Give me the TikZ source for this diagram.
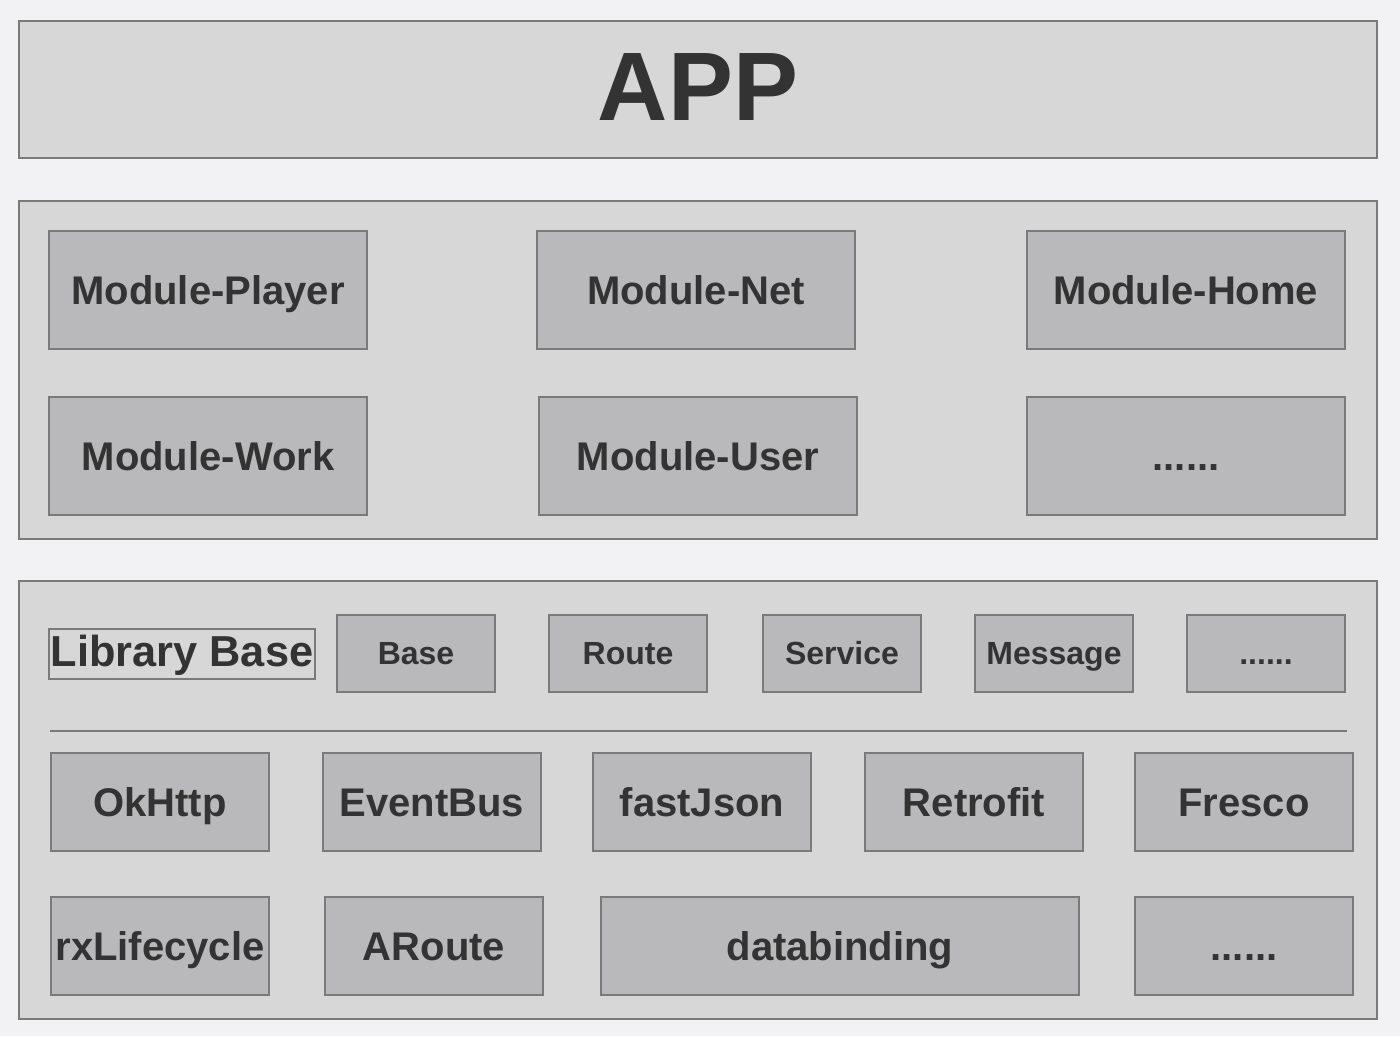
\documentclass[tikz,border=0pt]{standalone}
\usepackage{fontspec}
\setmainfont{Liberation Sans}
\definecolor{pagebg}{RGB}{242,242,244}
\definecolor{panelfill}{RGB}{215,215,215}
\definecolor{boxfill}{RGB}{185,185,187}
\definecolor{edgegray}{RGB}{122,122,122}
\definecolor{inkgray}{RGB}{51,51,51}
\tikzset{every picture/.style={line width=0.75pt}}
\tikzset{
  panel/.style={draw=edgegray, fill=panelfill, line width=1.5pt},
  capbox/.style={text=inkgray, inner sep=0pt, text depth=0pt},
  modbox/.style={capbox, draw=edgegray, fill=boxfill, line width=1.5pt,
    minimum width=238.5pt, minimum height=88.5pt, text height=21.5pt,
    font=\fontsize{30}{36}\selectfont\bfseries},
  tagbox/.style={capbox, draw=edgegray, fill=boxfill, line width=1.5pt,
    minimum width=118.5pt, minimum height=57.75pt, text height=17.2pt,
    font=\fontsize{24}{29}\selectfont\bfseries},
  libbox/.style={capbox, draw=edgegray, fill=boxfill, line width=1.5pt,
    minimum width=163.5pt, minimum height=73.5pt, text height=21.5pt,
    font=\fontsize{30}{36}\selectfont\bfseries}
}

\begin{document}
\begin{tikzpicture}[x=0.75pt,y=0.75pt,yscale=-1,xscale=1]
    \useasboundingbox [fill=pagebg] (0,0) rectangle (1400,1036);

    %Shape: Rectangle [id:app]
    \draw [panel] (19,21) rectangle (1377,158);
    %Shape: Rectangle [id:modules]
    \draw [panel] (19,201) rectangle (1377,539);
    %Shape: Rectangle [id:libraries]
    \draw [panel] (19,581) rectangle (1377,1019);

    % Text Node
    \node [capbox, text height=52.3pt, font=\fontsize{73}{80}\selectfont\bfseries] (app) at (698,86) {APP};

    % Module boxes
    \node [modbox] (player) at (208,290) {Module-Player};
    \node [modbox] (net) at (696,290) {Module-Net};
    \node [modbox] (home) at (1186,290) {Module-Home};
    \node [modbox] (work) at (208,456) {Module-Work};
    \node [modbox] (user) at (698,456) {Module-User};
    \node [modbox] (moremod) at (1186,456) {......};

    % Text Node
    \node [capbox, text height=23.3pt, text depth=4.5pt, draw=edgegray, line width=1pt,
      minimum width=199.5pt, minimum height=37.5pt,
      font=\fontsize{32.5}{38}\selectfont\bfseries] (libbase) at (182,654) {Library Base};
    \node [tagbox] (base) at (416,653.5) {Base};
    \node [tagbox] (route) at (628,653.5) {Route};
    \node [tagbox] (service) at (842,653.5) {Service};
    \node [tagbox] (message) at (1054,653.5) {Message};
    \node [tagbox] (moretag) at (1266,653.5) {......};

    %Straight Lines [id:divider]
    \draw [draw=edgegray, line width=1pt] (50,731) -- (1347,731);

    % Library boxes
    \node [libbox] (okhttp) at (160,802) {OkHttp};
    \node [libbox] (eventbus) at (432,802) {EventBus};
    \node [libbox] (fastjson) at (702,802) {fastJson};
    \node [libbox] (retrofit) at (974,802) {Retrofit};
    \node [libbox] (fresco) at (1244,802) {Fresco};
    \node [libbox] (rxlife) at (160,946) {rxLifecycle};
    \node [libbox] (aroute) at (434,946) {ARoute};
    \node [libbox, minimum width=358.5pt] (databinding) at (840,946) {databinding};
    \node [libbox] (morelib) at (1244,946) {......};

\end{tikzpicture}
\end{document}
